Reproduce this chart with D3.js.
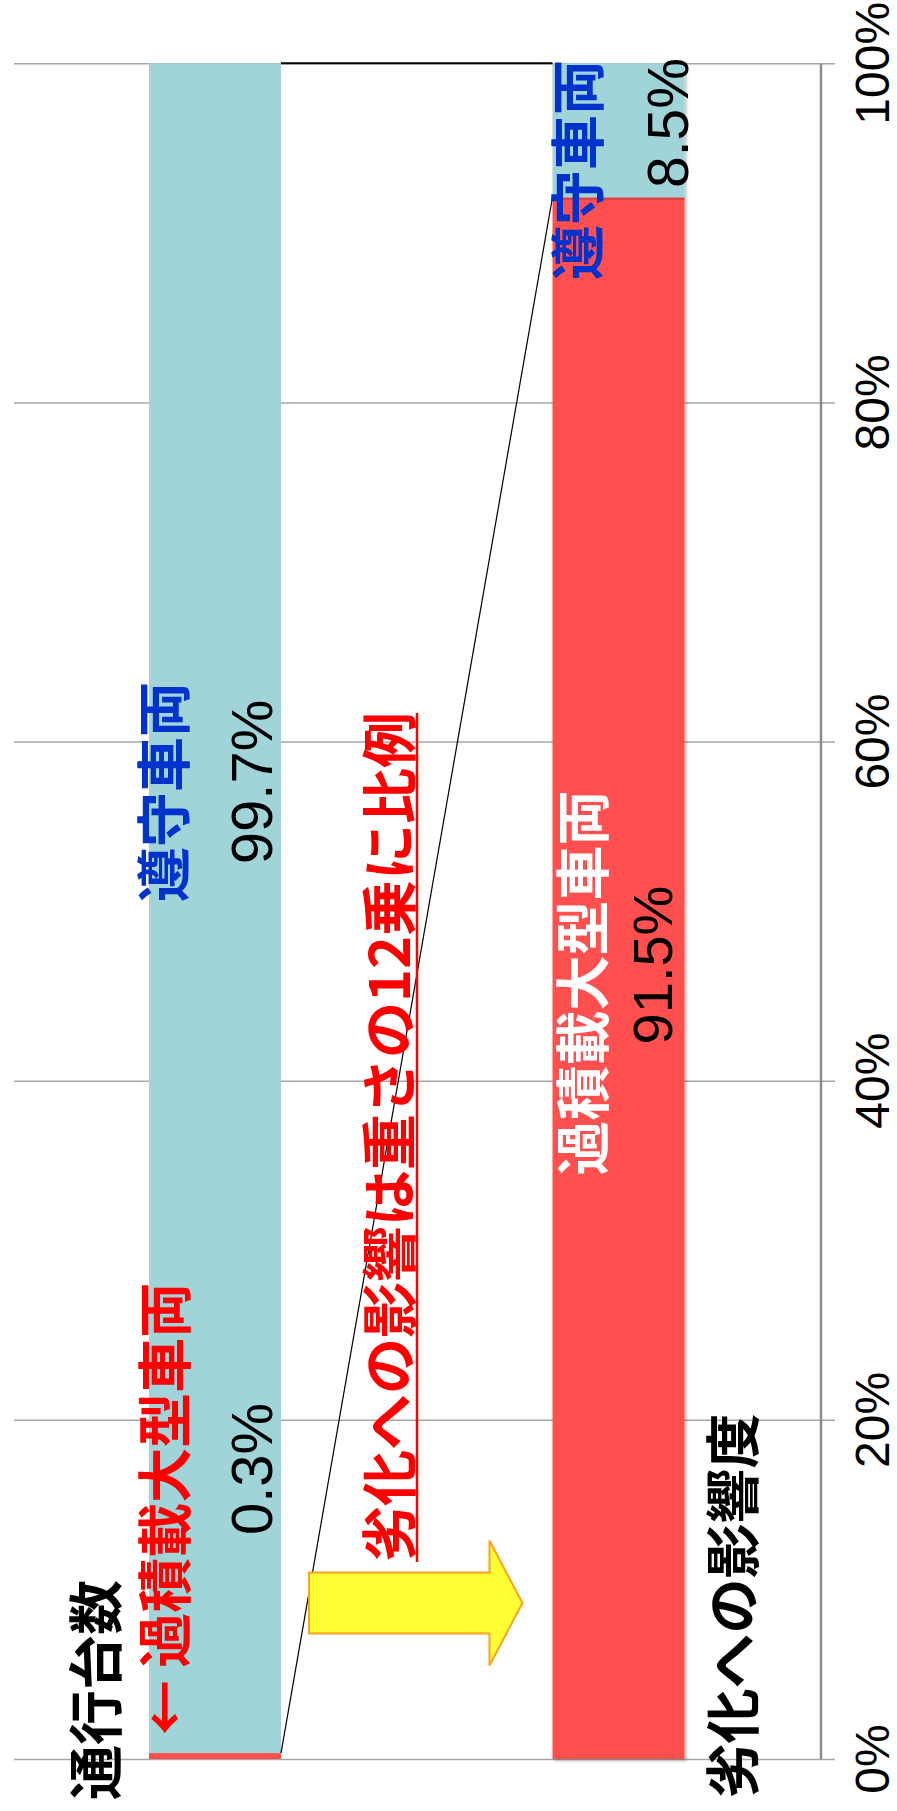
<!DOCTYPE html>
<html>
<head>
<meta charset="utf-8">
<script src="https://cdn.jsdelivr.net/npm/d3@7"></script>
<style>
html,body{margin:0;padding:0;background:#fff;}
svg{display:block;}
</style>
</head>
<body>
<svg id="chart" width="897" height="1811"></svg>
<script>
// ---- data ----
const categories = ["通行台数", "劣化への影響度"];
const overloaded = [0.35, 92.1];   // 過積載大型車両 (bottom, red)
const compliant  = [99.65, 7.9];   // 遵守車両 (top, teal)
const overloadedLabels = ["0.3%", "91.5%"];
const compliantLabels  = ["99.7%", "8.5%"];
const tickValues = [0, 20, 40, 60, 80, 100];
const tickLabels = ["0%", "20%", "40%", "60%", "80%", "100%"];

const svg = d3.select("#chart");
const JP = "'Noto Sans CJK JP','Noto Sans',sans-serif";
const NUM = "'Liberation Sans',Arial,sans-serif";

const y = d3.scaleLinear().domain([0, 100]).range([1759, 63.3]);
const x = d3.scalePoint().domain(categories).range([215, 618.5]);
const barW = 132;

const defs = svg.append("defs");
const sh = defs.append("filter").attr("id","shadow").attr("x","-10%").attr("y","-2%").attr("width","130%").attr("height","104%");
sh.append("feDropShadow").attr("dx",2).attr("dy",2).attr("stdDeviation",1.5).attr("flood-color","#000").attr("flood-opacity",0.25);

// gridlines + ticks
const axisG = svg.append("g").attr("transform","translate(835,0)");
axisG.call(d3.axisLeft(y).tickValues(tickValues).tickSize(821).tickFormat(""))
  .call(g => g.select(".domain").remove())
  .call(g => g.selectAll(".tick line").attr("stroke","#a6a6a6").attr("stroke-width",1.5));

// axis line
svg.append("line").attr("x1",821).attr("x2",821).attr("y1",y(100)).attr("y2",y(0))
  .attr("stroke","#8c8c8c").attr("stroke-width",2.5);

// tick labels
svg.append("g").selectAll("text").data(tickValues).join("text")
  .attr("transform",(d)=>`translate(872,${y(d)}) rotate(-90)`)
  .attr("text-anchor","middle").attr("dominant-baseline","central")
  .attr("font-family",NUM).attr("font-size",48).attr("fill","#000")
  .text((d,i)=>tickLabels[i]);

// stacked bars
const rows = categories.map((c,i)=>({cat:c, overloaded:overloaded[i], compliant:compliant[i]}));
const stack = d3.stack().keys(["overloaded","compliant"])(rows);
const colors = {overloaded:"#FF5050", compliant:"#A0D4D8"};
svg.append("g").selectAll("g").data(stack).join("g")
  .attr("fill", s => colors[s.key])
  .selectAll("rect").data(s => s).join("rect")
  .attr("x", d => x(d.data.cat) - barW/2)
  .attr("y", d => y(d[1]))
  .attr("width", barW)
  .attr("height", d => y(d[0]) - y(d[1]))
  .attr("filter", d => d.data.cat === categories[1] ? "url(#shadow)" : null);

// series lines
const b1r = x(categories[0]) + barW/2, b2l = x(categories[1]) - barW/2;
svg.append("line").attr("x1",b1r).attr("x2",b2l).attr("y1",y(100)).attr("y2",y(100))
  .attr("stroke","#000").attr("stroke-width",2);
svg.append("line").attr("x1",b1r).attr("x2",b2l).attr("y1",y(overloaded[0])).attr("y2",y(overloaded[1]))
  .attr("stroke","#000").attr("stroke-width",1.2);

// yellow arrow
const ax0 = b1r + 28, ax1 = b2l - 63, ax2 = b2l - 30;
const ym = 1603, sh1 = 30.5, hh = 62.5;
const arrowPts = [[ax0,ym-sh1],[ax1,ym-sh1],[ax1,ym-hh],[ax2,ym],[ax1,ym+hh],[ax1,ym+sh1],[ax0,ym+sh1]];
svg.append("polygon").attr("points", arrowPts.map(p=>p.join(",")).join(" "))
  .attr("fill","#FFFF33").attr("stroke","#FFA020").attr("stroke-width",2);

// rotated texts
function vtext(xc, yc, txt, opts){
  const t = svg.append("text")
    .attr("transform",`translate(${xc},${yc}) rotate(-90)`)
    .attr("text-anchor", opts.anchor || "middle")
    .attr("dominant-baseline","central")
    .attr("font-family", opts.family || JP)
    .attr("font-size", opts.size)
    .attr("font-weight", opts.weight || "normal")
    .attr("fill", opts.fill || "#000")
    .text(txt);
  return t;
}
vtext(92, 1690, categories[0], {size:55, weight:"bold"});
vtext(161, 1509, "← 過積載大型車両", {size:55, weight:"bold", fill:"#FF0000"});
vtext(729, 1606, categories[1], {size:55, weight:"bold"});

vtext(160, 792, "遵守車両", {size:55, weight:"bold", fill:"#0033CC"});
vtext(574, 170, "遵守車両", {size:55, weight:"bold", fill:"#0033CC"});
vtext(579, 983, "過積載大型車両", {size:55, weight:"bold", fill:"#FFFFFF"});

vtext(251, 1469, overloadedLabels[0], {size:58, family:NUM});
vtext(251, 782, compliantLabels[0], {size:58, family:NUM});
vtext(652, 965, overloadedLabels[1], {size:56, family:NUM});
vtext(668, 123, compliantLabels[1], {size:57, family:NUM});

// red underlined statement
vtext(385, 1137, "劣化への影響は重さの12乗に比例", {size:56, weight:"bold", fill:"#FF0000"});
svg.append("line").attr("x1",417).attr("x2",417).attr("y1",713).attr("y2",1562)
  .attr("stroke","#FF0000").attr("stroke-width",2.5);
</script>
</body>
</html>
